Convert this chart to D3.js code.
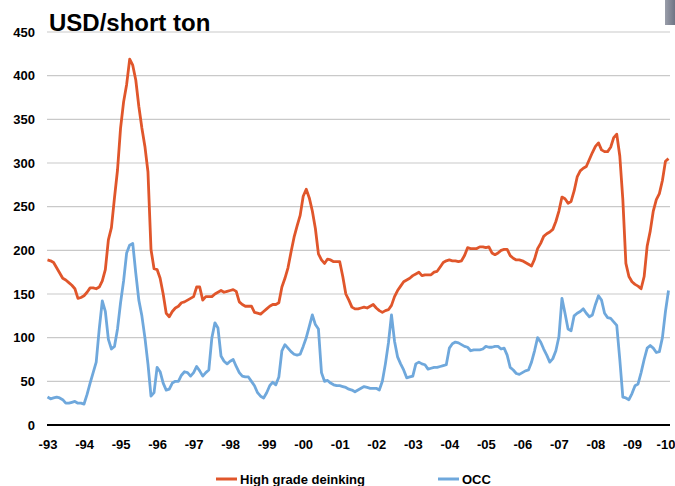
<!DOCTYPE html>
<html>
<head>
<meta charset="utf-8">
<script src="https://cdn.jsdelivr.net/npm/d3@7"></script>
<style>
  body { margin: 0; background: #fff; }
  svg { display: block; font-family: Arial, "Liberation Sans", sans-serif; }
</style>
</head>
<body>
<svg id="ch" width="675" height="486"></svg>
<script>
// monthly, Jan 1993 .. Jan 2010 (index = months since Jan 1993)
var yearLabels = ["-93","-94","-95","-96","-97","-98","-99","-00","-01","-02","-03","-04","-05","-06","-07","-08","-09","-10"];
var yTicks = [0, 50, 100, 150, 200, 250, 300, 350, 400, 450];

var deinking = [
  189,188,186,180,174,168,166,163,160,156,145,146,
  148,152,157,157,156,158,165,178,212,226,260,292,
  340,370,390,419,412,395,365,340,319,290,201,179,
  178,168,150,128,124,130,134,136,140,141,143,145,
  147,158,158,143,147,147,147,150,152,154,152,153,
  154,155,153,141,138,136,136,136,129,128,127,130,
  133,136,138,138,140,158,168,180,198,215,228,240,
  262,270,260,245,225,196,189,185,190,189,187,187,
  187,170,150,143,135,133,133,134,135,134,136,138,
  134,131,129,131,132,137,147,154,159,164,166,168,
  171,173,175,171,172,172,172,175,176,181,186,188,
  189,188,188,187,188,194,203,202,202,202,204,204,
  203,204,197,195,197,200,201,201,194,191,189,189,
  188,186,184,182,190,202,208,216,219,221,224,233,
  245,261,259,254,256,268,284,291,294,296,304,312,
  319,323,315,313,313,318,329,333,308,258,185,170,
  164,161,159,156,170,205,222,245,258,265,280,302,
  305
];

var occ = [
  32,30,31,32,31,29,25,25,26,27,25,25,
  24,35,48,60,72,110,142,130,98,87,90,110,
  140,165,197,206,208,174,143,125,100,70,33,37,
  66,61,48,40,41,48,50,50,57,61,60,56,
  60,67,62,56,60,63,100,117,111,79,73,70,
  73,75,67,60,56,55,55,50,45,37,33,31,
  37,45,49,46,55,85,92,88,84,81,80,81,
  90,100,113,126,115,110,60,50,51,48,46,45,
  45,44,43,41,40,38,40,42,44,43,42,42,
  42,40,50,70,94,126,96,78,70,63,54,55,
  56,70,72,70,69,64,65,66,66,67,68,69,
  88,93,95,94,92,90,89,85,86,86,86,87,
  90,89,89,90,90,87,88,80,66,63,59,58,
  60,62,63,72,85,100,95,87,80,72,76,85,
  101,145,128,110,108,125,128,130,133,128,124,126,
  138,148,143,128,123,122,118,114,75,32,31,29,
  36,45,47,60,75,88,91,88,83,84,100,130,
  154
];

var seriesNames = ["High grade deinking", "OCC"];
var seriesColors = ["#e0562b", "#6fa8dc"];

var svg = d3.select("#ch");

var x = d3.scaleLinear().domain([0, 204]).range([47.5, 668.5]);
var y = d3.scaleLinear().domain([0, 450]).range([425, 32]);

// light grid
svg.append("g")
  .selectAll("line")
  .data(yTicks.filter(function (d) { return d > 0; }))
  .enter().append("line")
  .attr("x1", 47).attr("x2", 670)
  .attr("y1", function (d) { return y(d); })
  .attr("y2", function (d) { return y(d); })
  .style("stroke", "#c9c9c9")
  .style("stroke-width", "1.2px");

// y labels
svg.append("g")
  .selectAll("text")
  .data(yTicks)
  .enter().append("text")
  .attr("x", 35)
  .attr("y", function (d) { return y(d); })
  .attr("dy", "0.35em")
  .attr("text-anchor", "end")
  .style("font-size", "13px")
  .style("font-weight", "bold")
  .text(function (d) { return d; });

// x labels, one per January
var xAxis = d3.axisBottom(x)
  .tickValues(d3.range(0, 205, 12))
  .tickSize(0)
  .tickPadding(15)
  .tickFormat(function (d, i) { return yearLabels[i]; });

var gx = svg.append("g")
  .attr("transform", "translate(0,425)")
  .call(xAxis);
gx.select(".domain").remove();
gx.selectAll("text")
  .style("font-size", "13px")
  .style("font-weight", "bold")
  .style("font-family", "Arial, 'Liberation Sans', sans-serif")
  .attr("fill", "#000");
// last label sits right at the edge, nudge it in a bit
gx.selectAll("text").filter(function (d) { return d === 204; })
  .attr("dx", "-3px");

// zero line
svg.append("line")
  .attr("x1", 47).attr("x2", 670)
  .attr("y1", y(0)).attr("y2", y(0))
  .style("stroke", "#000")
  .style("stroke-width", "2px");

var line = d3.line()
  .x(function (d, i) { return x(i); })
  .y(function (d) { return y(d); });

[deinking, occ].forEach(function (vals, k) {
  svg.append("path")
    .attr("d", line(vals))
    .style("fill", "none")
    .style("stroke", seriesColors[k])
    .style("stroke-width", "2.8px")
    .style("stroke-linejoin", "round");
});

// title
svg.append("text")
  .attr("x", 49)
  .attr("y", 30.5)
  .style("font-size", "24px")
  .style("font-weight", "bold")
  .text("USD/short ton");

// legend
var legX = [216, 438];
seriesNames.forEach(function (name, k) {
  svg.append("line")
    .attr("x1", legX[k]).attr("x2", legX[k] + 21)
    .attr("y1", 479).attr("y2", 479)
    .style("stroke", seriesColors[k])
    .style("stroke-width", "3px");
  svg.append("text")
    .attr("x", legX[k] + 24)
    .attr("y", 479)
    .attr("dy", "0.35em")
    .style("font-size", "13px")
    .style("font-weight", "bold")
    .text(name);
});

// little grey tab in the top right corner
var grad = svg.append("defs").append("linearGradient").attr("id", "tab");
grad.append("stop").attr("offset", "0%").attr("stop-color", "#9a9eaa");
grad.append("stop").attr("offset", "100%").attr("stop-color", "#6f7484");
svg.append("rect")
  .attr("x", 665).attr("y", 0)
  .attr("width", 10).attr("height", 25)
  .attr("fill", "url(#tab)");
</script>
</body>
</html>
